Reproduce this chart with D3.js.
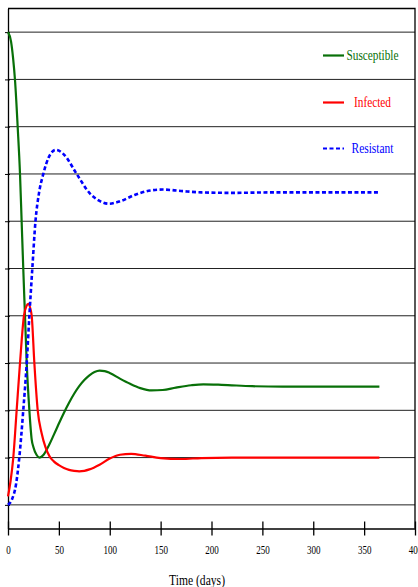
<!DOCTYPE html>
<html>
<head>
<meta charset="utf-8">
<script src="https://cdn.jsdelivr.net/npm/d3@7"></script>
<style>
  body { margin: 0; background: #fff; }
  svg { display: block; }
</style>
</head>
<body>
<div id="chart"></div>
<script>
// time (days) and fractions, one set per series
const susTime = [0, 3, 5, 7, 9.5, 11.8, 13.4, 15, 16.7, 18.4, 21, 23.3, 25, 28, 31, 35, 40, 45, 50, 55, 60, 65, 70, 75, 80, 85, 90, 95, 100, 110, 120, 130, 141, 152, 165, 180, 192, 210, 240, 270, 300, 330, 365]
const susVal  = [1.0, 0.98, 0.945, 0.895, 0.8, 0.7, 0.6, 0.5, 0.4, 0.3, 0.2, 0.138, 0.122, 0.106, 0.1, 0.106, 0.125, 0.148, 0.172, 0.195, 0.216, 0.235, 0.251, 0.264, 0.274, 0.281, 0.284, 0.283, 0.279, 0.267, 0.256, 0.247, 0.242, 0.243, 0.248, 0.253, 0.255, 0.254, 0.251, 0.25, 0.25, 0.25, 0.25]

const infTime = [0, 2.5, 5.2, 8.5, 11.8, 15.7, 18, 20, 22, 23.3, 25.9, 29.2, 33, 37, 41, 45, 50, 55, 60, 65, 70, 75, 80, 90, 100, 110, 121, 135, 150, 170, 190, 220, 260, 300, 365]
const infVal  = [0.018, 0.05, 0.1, 0.2, 0.3, 0.4, 0.42, 0.425, 0.415, 0.4, 0.3, 0.2, 0.152, 0.121, 0.102, 0.092, 0.084, 0.078, 0.074, 0.072, 0.071, 0.072, 0.075, 0.085, 0.098, 0.106, 0.108, 0.104, 0.099, 0.097, 0.099, 0.1, 0.1, 0.1, 0.1]

const resTime = [0, 4, 8, 11.1, 15, 18.4, 21, 23.9, 27, 30.5, 34.7, 40, 47, 55, 67.5, 80, 90, 99, 110, 125, 140, 152, 170, 190, 220, 260, 300, 365]
const resVal  = [0, 0.012, 0.045, 0.1, 0.2, 0.3, 0.4, 0.5, 0.6, 0.66, 0.7, 0.735, 0.751, 0.741, 0.7, 0.66, 0.643, 0.637, 0.642, 0.656, 0.665, 0.667, 0.664, 0.661, 0.66, 0.661, 0.661, 0.661]

const xTicks = [0, 50, 100, 150, 200, 250, 300, 350, 400]
const yTicks = [0, 0.1, 0.2, 0.3, 0.4, 0.5, 0.6, 0.7, 0.8, 0.9, 1.0]

const seriesNames = ['Susceptible', 'Infected', 'Resistant']
const seriesColors = ['#087008', '#ff0000', '#0000ff']

// set a dimension
const width = 418
const height = 587

const svg = d3.select('#chart')
    .append('svg')
    .attr('width', width)
    .attr('height', height)

// scales in pixels
const xScale = d3.scaleLinear().domain([0, 400]).range([8, 415])
const yScale = d3.scaleLinear().domain([-0.05, 1.05]).range([528.5, 8.5])

const serif = "'Liberation Serif', 'DejaVu Serif', serif"

// grid lines
svg.append('g')
    .selectAll('line')
    .data(yTicks)
    .join('line')
    .attr('x1', xScale(0))
    .attr('x2', xScale(400))
    .attr('y1', d => yScale(d))
    .attr('y2', d => yScale(d))
    .attr('stroke', '#222')
    .attr('stroke-width', 1)

// frame top and right
svg.append('path')
    .attr('d', `M${xScale(0)},${yScale(1.05)}H${xScale(400)}V${yScale(-0.05)}`)
    .attr('fill', 'none')
    .attr('stroke', '#000')
    .attr('stroke-width', 1.3)

// x axis
const xAxisGroup = svg.append('g')
    .attr('transform', `translate(0, ${yScale(-0.05)})`)
    .call(d3.axisBottom(xScale).tickValues(xTicks).tickSizeOuter(0))

xAxisGroup.select('.domain').attr('stroke-width', 1.3)
xAxisGroup.selectAll('.tick line').attr('y1', -7).attr('y2', 7).attr('stroke-width', 1.3)
xAxisGroup.selectAll('.tick text')
    .attr('y', 25)
    .attr('dy', null)
    .attr('fill', '#000')
    .style('font-family', serif)
    .style('font-size', '12.5px')
    .attr('textLength', d => String(d).length * 4.5)
    .attr('lengthAdjust', 'spacingAndGlyphs')

// y axis, ticks only
const yAxisGroup = svg.append('g')
    .attr('transform', `translate(${xScale(0)}, 0)`)
    .call(d3.axisLeft(yScale).tickValues(yTicks).tickFormat('').tickSizeOuter(0))

yAxisGroup.select('.domain').attr('stroke-width', 1.3)
yAxisGroup.selectAll('.tick line').attr('x1', -3).attr('x2', 2)

// x label
svg.append('text')
    .attr('x', 197)
    .attr('y', 585)
    .attr('text-anchor', 'middle')
    .attr('textLength', 56)
    .attr('lengthAdjust', 'spacingAndGlyphs')
    .style('font-family', serif)
    .style('font-size', '15px')
    .text('Time (days)')

// lines
const line = d3.line()
    .x(d => xScale(d[0]))
    .y(d => yScale(d[1]))
    .curve(d3.curveMonotoneX)

const series = [
    { times: susTime, values: susVal, dash: null, w: 2.2 },
    { times: infTime, values: infVal, dash: null, w: 2.2 },
    { times: resTime, values: resVal, dash: '4,2.5', w: 2.6 }
]

const elementGroup = svg.append('g')

series.forEach((s, i) => {
    elementGroup.append('path')
        .datum(s.times.map((t, j) => [t, s.values[j]]))
        .attr('fill', 'none')
        .attr('stroke', seriesColors[i])
        .attr('stroke-width', s.w)
        .attr('stroke-dasharray', s.dash)
        .attr('d', line)
})

// legend
const legendY = [55.5, 102.5, 148.5]
const legendTextW = [52, 37, 42]
const legend = svg.append('g')

seriesNames.forEach((name, i) => {
    legend.append('line')
        .attr('x1', 323)
        .attr('x2', 344)
        .attr('y1', legendY[i])
        .attr('y2', legendY[i])
        .attr('stroke', seriesColors[i])
        .attr('stroke-width', 2.2)
        .attr('stroke-dasharray', series[i].dash)
    legend.append('text')
        .attr('x', 372.5)
        .attr('y', legendY[i] + 4.5)
        .attr('text-anchor', 'middle')
        .attr('fill', seriesColors[i])
        .attr('textLength', legendTextW[i])
        .attr('lengthAdjust', 'spacingAndGlyphs')
        .style('font-family', serif)
        .style('font-size', '15px')
        .text(name)
})
</script>
</body>
</html>
